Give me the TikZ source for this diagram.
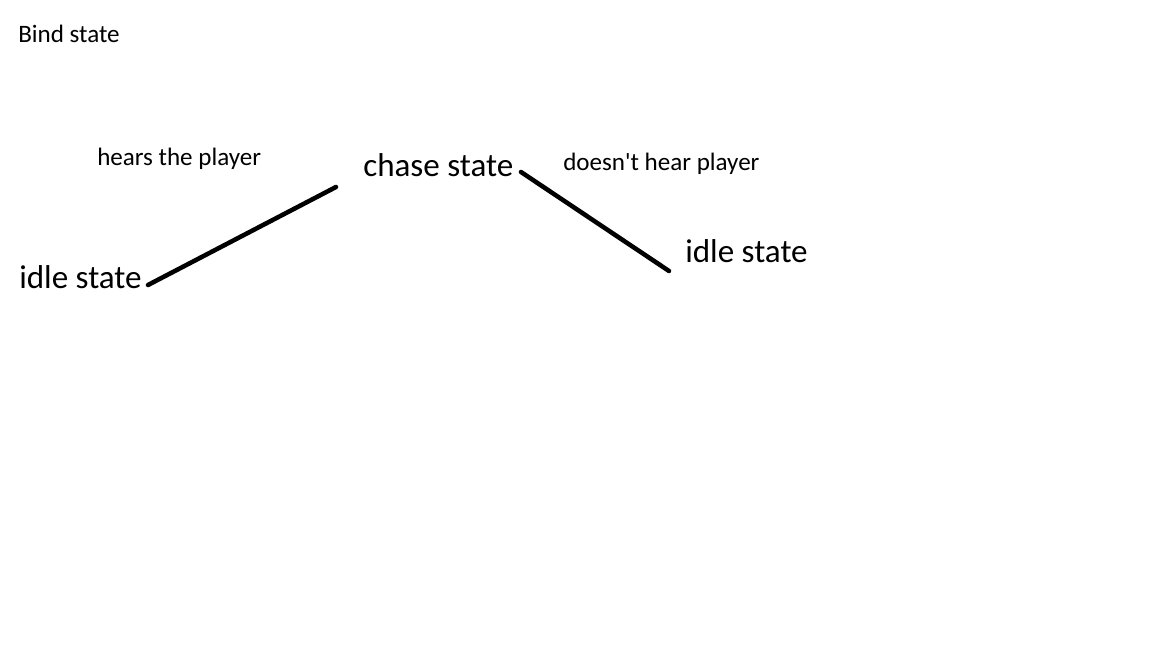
\documentclass[tikz,border=0pt]{standalone}
\usepackage{fontspec}
\setmainfont{Carlito}
\usetikzlibrary{positioning}

\tikzset{
    small/.style={anchor=base west, inner sep=0pt, font=\fontsize{18.8pt}{22pt}\selectfont},
    big/.style={anchor=base west, inner sep=0pt, font=\fontsize{24.8pt}{29pt}\selectfont},
    link/.style={line width=3.4pt, line cap=round}
}

\begin{document}
\begin{tikzpicture}[x=0.75pt, y=-0.75pt]
        \useasboundingbox (0,0) rectangle (1152,648);
        % Title
        \node [small] (title) at (18,43) {Bind state};
        % States
        \node [big] (idleA) at (19,289) {idle state};
        \node [big] (chase) at (363,177) {chase state};
        \node [big] (idleB) at (685,263) {idle state};
        % Transition labels
        \node [small] (hears) at (97,166) {hears the player};
        \node [small] (nohear) at (563,171) {doesn\textquotesingle t hear player};
        % Line ends
        \coordinate (a1) at (148,285);
        \coordinate (a2) at (336,187);
        \coordinate (b1) at (521,172);
        \coordinate (b2) at (669,271);
        % Lines
        \draw [link] (a1) -- (a2);
        \draw [link] (b1) -- (b2);
\end{tikzpicture}
\end{document}
